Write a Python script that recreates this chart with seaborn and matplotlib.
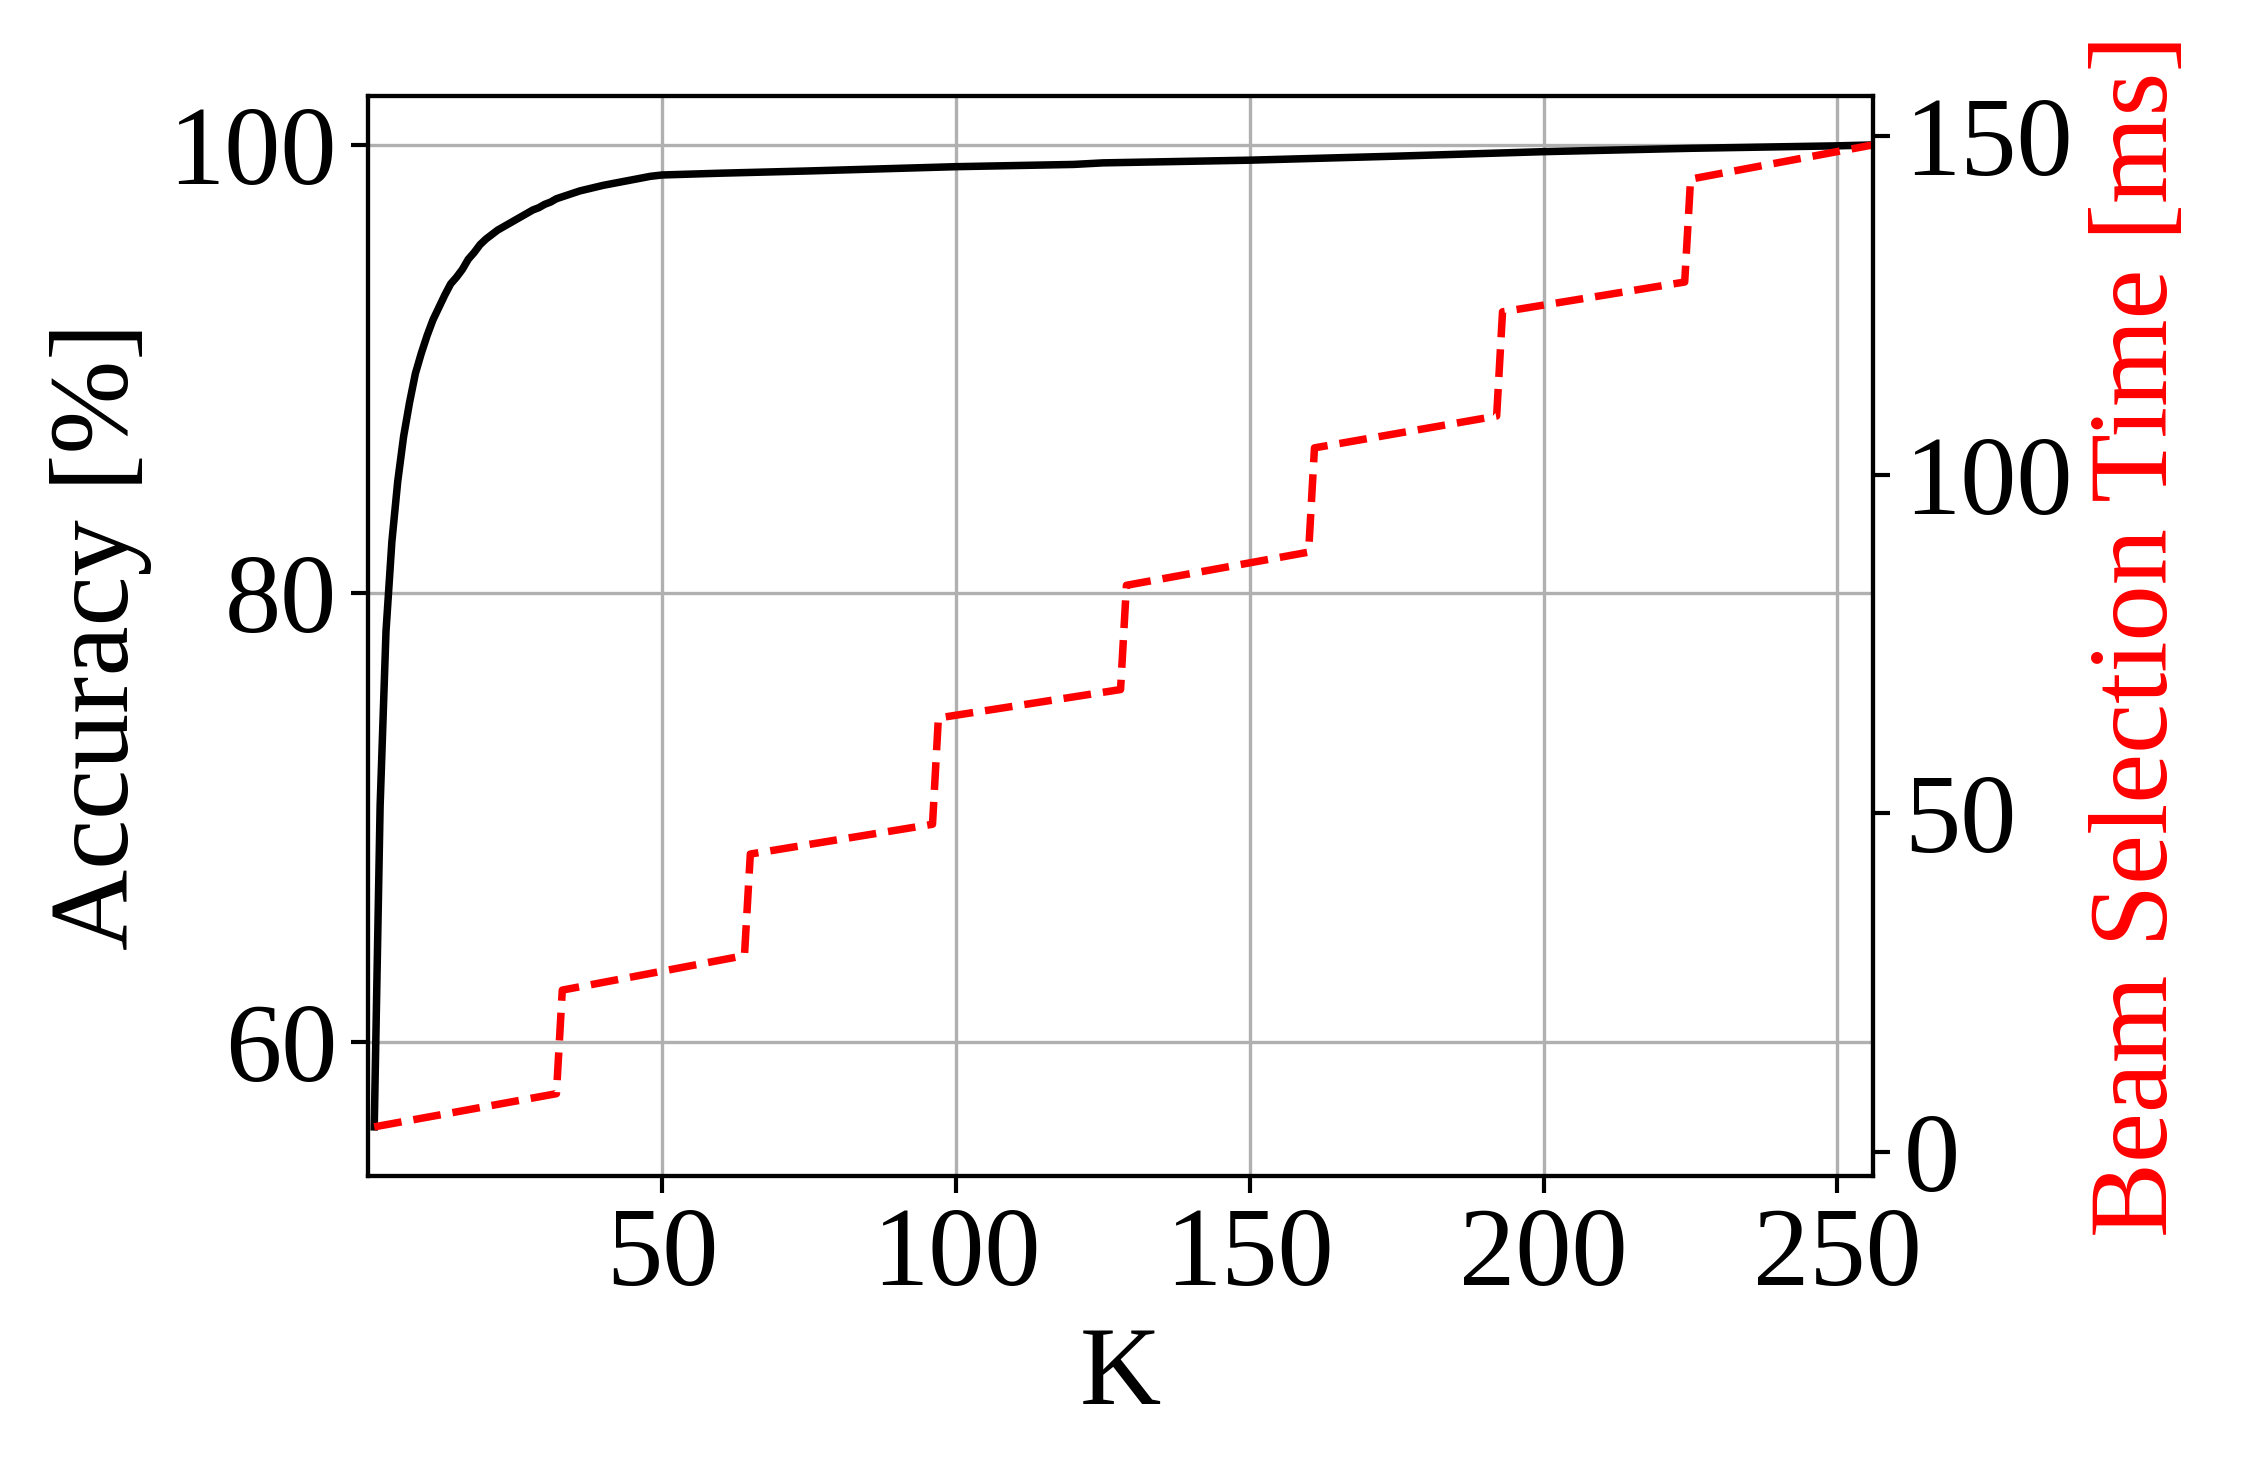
import seaborn as sns
import matplotlib.pyplot as plt
import pandas as pd

plt.rcParams['font.family'] = 'serif'
plt.rcParams['font.serif'] = ['Liberation Serif', 'Times New Roman', 'STIXGeneral', 'DejaVu Serif']
plt.rcParams['font.size'] = 27

# accuracy vs K
k_acc = [1, 2, 3, 4, 5, 6, 7, 8, 9, 10, 11, 12, 13, 14, 15, 16, 17, 18, 19, 20,
         21, 22, 23, 24, 25, 26, 27, 28, 29, 30, 31, 32, 36, 40, 44, 48, 50, 60,
         75, 100, 120, 125, 150, 175, 200, 225, 250, 256]
acc = [56.2, 70.5, 78.3, 82.3, 85.0, 87.0, 88.5, 89.8, 90.7, 91.5, 92.2, 92.75,
       93.3, 93.8, 94.1, 94.45, 94.9, 95.2, 95.55, 95.8, 96.0, 96.2, 96.35, 96.5,
       96.65, 96.8, 96.95, 97.1, 97.2, 97.35, 97.45, 97.6, 97.95, 98.2, 98.4, 98.6,
       98.66, 98.74, 98.84, 99.03, 99.13, 99.2, 99.32, 99.5, 99.7, 99.85, 99.96, 100.0]

# beam selection time vs K
k_time = [1, 32, 33, 64, 65, 96, 97, 128, 129, 160, 161, 192, 193, 224, 225, 256]
sel_time = [3.7, 8.6, 23.9, 29.0, 44.0, 48.4, 64.1, 68.3, 83.7, 88.6, 104.0, 108.7,
            124.1, 128.5, 143.7, 148.75]

df_acc = pd.DataFrame({"K": k_acc, "acc": acc})
df_time = pd.DataFrame({"K": k_time, "time": sel_time})

fig = plt.figure(figsize=(2242/300, 1479/300), dpi=300)
ax = fig.add_subplot(111)
fig.subplots_adjust(left=0.1643, right=0.8353, bottom=0.2049, top=0.9352)

sns.lineplot(data=df_acc, x="K", y="acc", ax=ax, color="black", linewidth=1.8,
             estimator=None)
ax.grid(True, color="#b0b0b0", linewidth=0.8)
ax.set_axisbelow(True)
ax.set_xlim(0, 256)
ax.set_xticks([50, 100, 150, 200, 250])
ax.set_yticks([60, 80, 100])
ax.set_xlabel("K")
ax.set_ylabel("Accuracy [%]")

ax2 = ax.twinx()
sns.lineplot(data=df_time, x="K", y="time", ax=ax2, color="red", linewidth=1.8,
             linestyle="--", estimator=None)
ax2.set_yticks([0, 50, 100, 150])
ax2.set_ylabel("Beam Selection Time [ms]", color="red")
ax2.set_xlim(0, 256)

for a in (ax, ax2):
    a.tick_params(length=4, width=1.0)
    for s in a.spines.values():
        s.set_linewidth(1.0)

fig.savefig("out.png", dpi=300)
